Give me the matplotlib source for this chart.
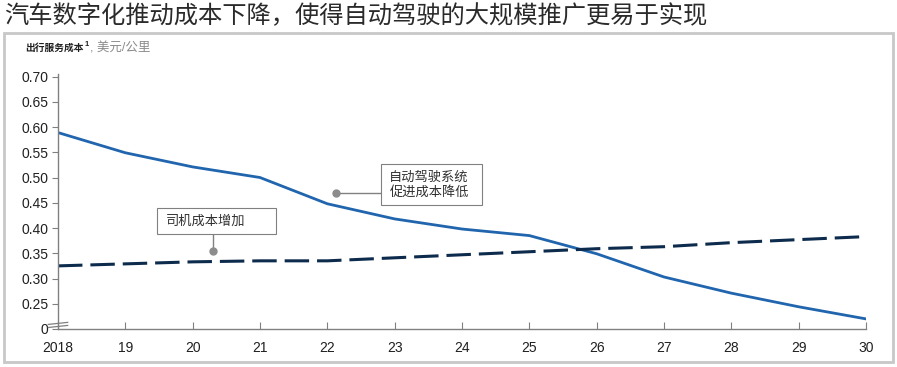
import numpy as np
import matplotlib
matplotlib.use('Agg')
import matplotlib.pyplot as plt
from matplotlib.patches import Rectangle

plt.rcParams['font.family'] = ['Liberation Sans', 'Noto Sans CJK SC', 'DejaVu Sans']

title = '汽车数字化推动成本下降，使得自动驾驶的大规模推广更易于实现'
years = [2018, 2019, 2020, 2021, 2022, 2023, 2024, 2025, 2026, 2027, 2028, 2029, 2030]
year_labels = ['2018', '19', '20', '21', '22', '23', '24', '25', '26', '27', '28', '29', '30']
autonomous_cost = [0.589, 0.549, 0.521, 0.500, 0.448, 0.418, 0.398, 0.385, 0.349, 0.303, 0.271, 0.244, 0.220]
driver_cost = [0.325, 0.329, 0.333, 0.335, 0.335, 0.341, 0.347, 0.353, 0.359, 0.363, 0.371, 0.377, 0.383]
y_ticks = [0.20, 0.25, 0.30, 0.35, 0.40, 0.45, 0.50, 0.55, 0.60, 0.65, 0.70]
y_labels = ['0', '0.25', '0.30', '0.35', '0.40', '0.45', '0.50', '0.55', '0.60', '0.65', '0.70']

W, H = 897, 367
fig = plt.figure(figsize=(W / 100, H / 100), dpi=100)
renderer = fig.canvas.get_renderer()

# gray frame around the chart body
fig.patches.append(Rectangle((4 / W, 5 / H), 889 / W, 329 / H, transform=fig.transFigure,
                             fill=False, edgecolor='#c8c8c8', linewidth=2))

fig.text(4 / W, 1 - 16 / H, title, fontsize=17.5, color='#2a2a2a', va='center',
         family=['Noto Sans CJK SC'], fontweight='light')

# subtitle: bold part, superscript, then gray units
t = fig.text(25 / W, 1 - 48 / H, '出行服务成本', fontsize=7, fontweight='bold', color='#202020',
             va='center', family=['Noto Sans CJK SC'])
x_end = t.get_window_extent(renderer).x1
t1 = fig.text(x_end / W + 0.001, 1 - 45 / H, '1', fontsize=5.5, fontweight='bold',
              color='#202020', va='center')
x_end = t1.get_window_extent(renderer).x1
fig.text(x_end / W + 0.001, 1 - 48 / H, ', 美元/公里', fontsize=9, color='#8a8a8a', va='center',
         family=['Liberation Sans', 'Noto Sans CJK SC'])

ax = fig.add_axes([58 / W, 1 - 329 / H, (866 - 58) / W, (329 - 74) / H])
ax.plot(years, autonomous_cost, color='#2065ad', linewidth=2, solid_joinstyle='round')
ax.plot(years, driver_cost, color='#0d2b4c', linewidth=2.2, dashes=(8, 2.6))

ax.set_xlim(2018, 2030)
ax.set_ylim(0.20, 0.705)
ax.set_xticks(years)
ax.set_xticklabels(year_labels)
ax.set_yticks(y_ticks)
ax.set_yticklabels(y_labels)
for s in ['top', 'right']:
    ax.spines[s].set_visible(False)
for s in ['left', 'bottom']:
    ax.spines[s].set_color('#808080')
    ax.spines[s].set_linewidth(1)
ax.tick_params(axis='y', direction='out', length=4, color='#808080', labelsize=10, pad=3,
               labelcolor='#202020')
ax.tick_params(axis='x', direction='in', length=5, color='#808080', labelsize=10, pad=9,
               labelcolor='#202020')

# axis break mark
for dy in (0.012, 0.024):
    ax.plot([-0.012, 0.012], [dy - 0.006, dy + 0.002], transform=ax.transAxes,
            color='#808080', linewidth=0.9, clip_on=False)


def callout(text, box_x, box_y, box_w, box_h, text_y, dot, anchor):
    # box and pointer in data units
    ax.add_patch(Rectangle((box_x, box_y), box_w, box_h, fc='white', ec='#808080', lw=0.8,
                           zorder=4))
    ax.text(box_x + 0.13, text_y, text, fontsize=9.5, family=['Noto Sans CJK SC'],
            color='#303030', ha='left', va='center', linespacing=1.15, zorder=5)
    ax.plot([anchor[0], dot[0]], [anchor[1], dot[1]], color='#808080', lw=1, zorder=3)
    ax.plot([dot[0]], [dot[1]], 'o', color='#8c8c8c', markersize=5, zorder=3)


callout('司机成本增加', 2019.47, 0.389, 1.77, 0.050, 0.4135, (2020.30, 0.355), (2020.30, 0.389))
callout('自动驾驶系统\n促进成本降低', 2022.79, 0.446, 1.50, 0.081, 0.4855, (2022.13, 0.470),
        (2022.79, 0.470))

fig.savefig('out.png', dpi=100)
